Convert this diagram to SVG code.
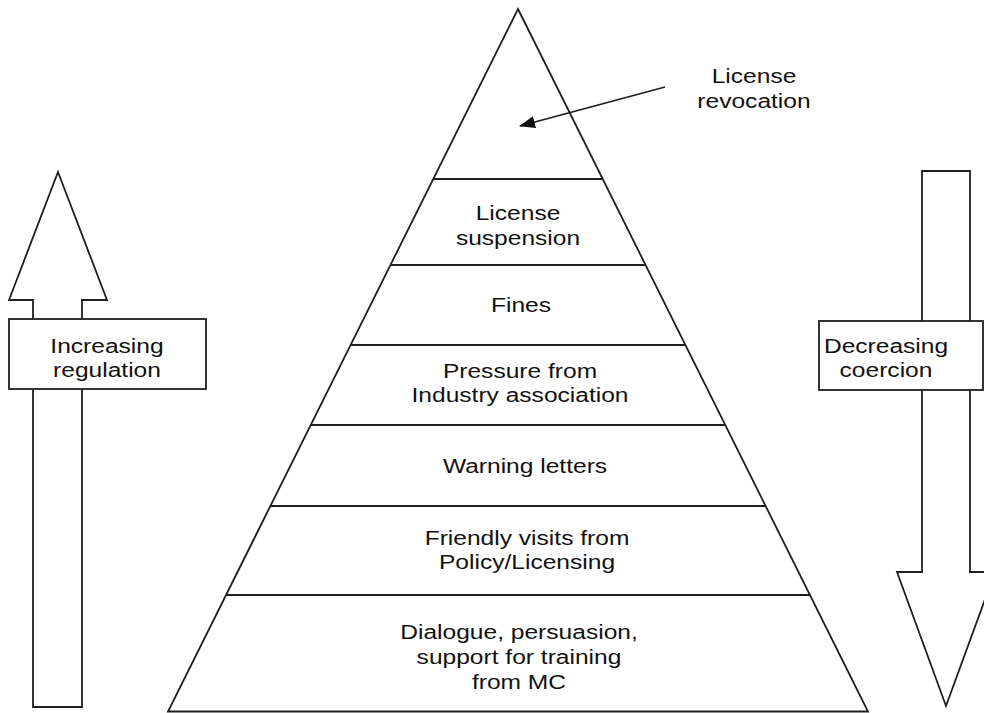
<svg xmlns="http://www.w3.org/2000/svg" width="984" height="713" viewBox="0 0 984 713">
<style>
.s{fill:#fff;stroke:#1e1e1e;stroke-width:1.8;stroke-linejoin:miter}
.ln{stroke:#1e1e1e;stroke-width:1.8;fill:none}
text{font-family:"Liberation Sans",Arial,sans-serif;font-size:21px;fill:#111;text-anchor:middle}
</style>
<defs>
<marker id="ah" viewBox="0 0 16 12" refX="15" refY="6" markerWidth="16" markerHeight="12" markerUnits="userSpaceOnUse" orient="auto">
<path d="M0,0 L16,6 L0,12 z" fill="#111"/>
</marker>
</defs>
<rect width="984" height="713" fill="#fff"/>

<g id="pyramid">
<polygon class="s" points="518,9 868,711.5 168,711.5"/>
<line class="ln" x1="433.3" y1="179" x2="602.7" y2="179"/>
<line class="ln" x1="390.5" y1="265" x2="645.5" y2="265"/>
<line class="ln" x1="350.6" y1="345" x2="685.4" y2="345"/>
<line class="ln" x1="310.7" y1="425" x2="725.3" y2="425"/>
<line class="ln" x1="270.4" y1="506" x2="765.6" y2="506"/>
<line class="ln" x1="226.1" y1="595" x2="809.9" y2="595"/>
</g>

<g id="tier-revocation">
<g transform="translate(754,0) scale(1.17,1)"><text x="0" y="83">License</text><text x="0" y="108">revocation</text></g>
</g>
<g id="tier-suspension">
<g transform="translate(518,0) scale(1.17,1)"><text x="0" y="220">License</text><text x="0" y="245">suspension</text></g>
</g>
<g id="tier-fines">
<g transform="translate(521,0) scale(1.17,1)"><text x="0" y="312">Fines</text></g>
</g>
<g id="tier-pressure">
<g transform="translate(520,0) scale(1.17,1)"><text x="0" y="378">Pressure from</text><text x="0" y="402">Industry association</text></g>
</g>
<g id="tier-warning">
<g transform="translate(525,0) scale(1.17,1)"><text x="0" y="473">Warning letters</text></g>
</g>
<g id="tier-friendly">
<g transform="translate(527,0) scale(1.17,1)"><text x="0" y="545">Friendly visits from</text><text x="0" y="569">Policy/Licensing</text></g>
</g>
<g id="tier-dialogue">
<g transform="translate(519,0) scale(1.17,1)"><text x="0" y="639">Dialogue, persuasion,</text><text x="0" y="664">support for training</text><text x="0" y="689">from MC</text></g>
</g>

<g id="arrow-increasing">
<polygon class="s" points="58,172 107,300 82,300 82,707 33,707 33,300 9,300"/>
<rect class="s" x="9" y="319" width="197" height="70"/>
<g transform="translate(107,0) scale(1.17,1)"><text x="0" y="353">Increasing</text><text x="0" y="377">regulation</text></g>
</g>

<g id="arrow-decreasing">
<polygon class="s" points="922,171 970,171 970,572 995,572 946,706 897,572 922,572"/>
<rect class="s" x="819" y="321" width="164" height="69"/>
<g transform="translate(886,0) scale(1.17,1)"><text x="0" y="353">Decreasing</text><text x="0" y="377">coercion</text></g>
</g>

<g id="connectors">
<line class="ln" x1="665" y1="87" x2="520" y2="126" marker-end="url(#ah)"/>
</g>
</svg>
